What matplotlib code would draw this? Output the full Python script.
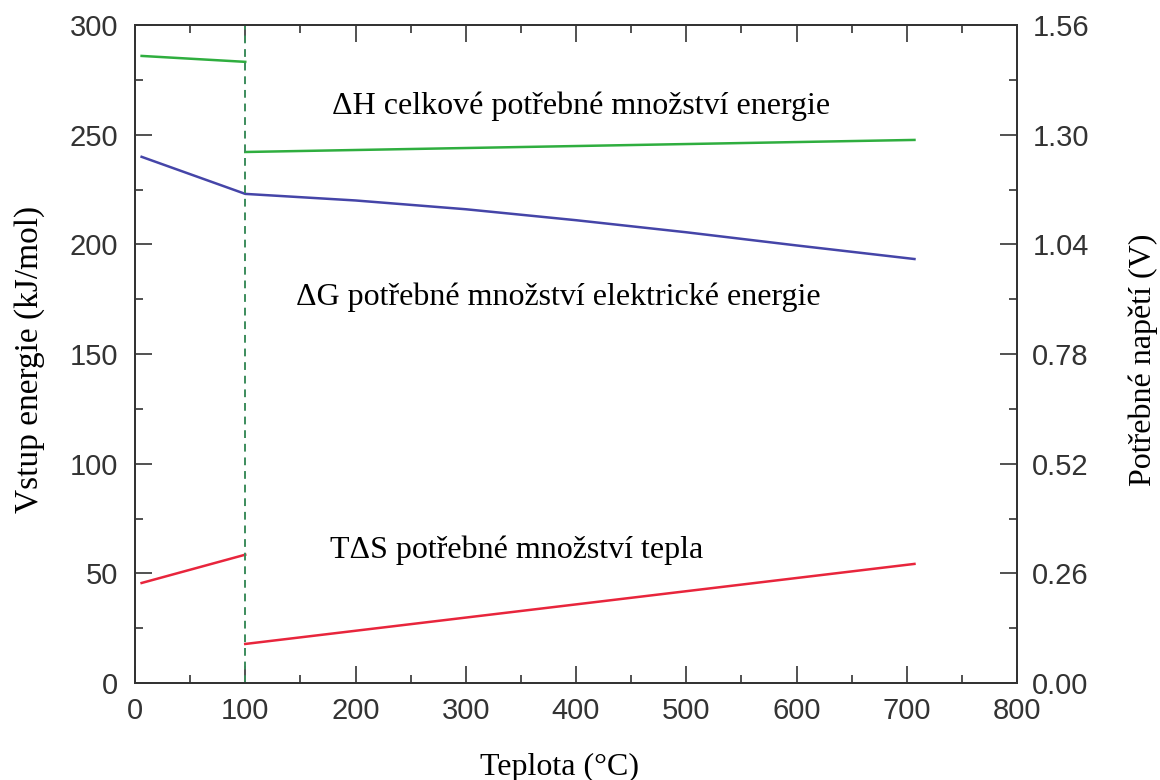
import matplotlib.pyplot as plt
from matplotlib.ticker import MultipleLocator

# data (kJ/mol vs. temperature in °C)
dh_liquid_t = [6, 100]
dh_liquid = [285.9, 283.2]
dh_steam_t = [100, 707]
dh_steam = [242.1, 247.6]

dg_t = [6, 100, 200, 300, 400, 500, 600, 707]
dg = [239.9, 223.0, 220.0, 216.0, 211.0, 205.5, 199.5, 193.3]

tds_liquid_t = [6, 100]
tds_liquid = [45.6, 58.5]
tds_steam_t = [100, 707]
tds_steam = [17.8, 54.3]

phase_change_t = 100

labels = {
    "dh": "ΔH celkové potřebné množství energie",
    "dg": "ΔG potřebné množství elektrické energie",
    "tds": "TΔS potřebné množství tepla",
}

tick_font = "Liberation Sans"
text_font = "Liberation Serif"
axis_col = "#333333"

fig = plt.figure(figsize=(11.6, 7.8), dpi=100)
ax = fig.add_axes([135 / 1160, 1 - 683 / 780, (1017 - 135) / 1160, (683 - 25) / 780])

green = "#2fae3f"
blue = "#4545a8"
red = "#e8253c"

ax.plot(dh_liquid_t, dh_liquid, color=green, lw=1.8)
ax.plot(dh_steam_t, dh_steam, color=green, lw=1.8)
ax.plot(dg_t, dg, color=blue, lw=1.8)
ax.plot(tds_liquid_t, tds_liquid, color=red, lw=1.8)
ax.plot(tds_steam_t, tds_steam, color=red, lw=1.8)
ax.axvline(phase_change_t, color="#3c8c5c", lw=1.4, ls=(0, (4, 3)))

ax.set_xlim(0, 800)
ax.set_ylim(0, 300)
ax.xaxis.set_major_locator(MultipleLocator(100))
ax.xaxis.set_minor_locator(MultipleLocator(50))
ax.yaxis.set_major_locator(MultipleLocator(50))
ax.yaxis.set_minor_locator(MultipleLocator(25))

ax2 = ax.twinx()
ax2.set_ylim(0, 1.56)
ax2.yaxis.set_major_locator(MultipleLocator(0.26))
ax2.yaxis.set_minor_locator(MultipleLocator(0.13))
ax2.yaxis.set_major_formatter(plt.FuncFormatter(lambda v, p: f"{v:.2f}"))

for a in (ax, ax2):
    for s in a.spines.values():
        s.set_color(axis_col)
        s.set_linewidth(1.3)

ax.tick_params(axis="x", which="major", direction="in", length=12, width=1.2,
               color=axis_col, top=True, pad=10)
ax.tick_params(axis="x", which="minor", direction="in", length=6, width=1.2,
               color=axis_col, top=True)
ax.tick_params(axis="y", which="major", direction="in", length=12, width=1.2,
               color=axis_col, pad=12)
ax.tick_params(axis="y", which="minor", direction="in", length=6, width=1.2,
               color=axis_col)
ax2.tick_params(axis="y", which="major", direction="in", length=12, width=1.2,
                color=axis_col, pad=11)
ax2.tick_params(axis="y", which="minor", direction="in", length=6, width=1.2,
                color=axis_col)

for lab in ax.get_xticklabels() + ax.get_yticklabels() + ax2.get_yticklabels():
    lab.set_fontfamily(tick_font)
    lab.set_fontsize(21)
    lab.set_color(axis_col)

ax.set_xlabel("Teplota (°C)", fontfamily=text_font, fontsize=23, labelpad=20)
ax.set_ylabel("Vstup energie (kJ/mol)", fontfamily=text_font, fontsize=24, labelpad=17.5)
ax2.set_ylabel("Potřebné napětí (V)", fontfamily=text_font, fontsize=23, labelpad=28.5)
ax.xaxis.label.set_x(0.481)
ax.yaxis.label.set_y(0.491)
ax2.yaxis.label.set_y(0.491)

ax.text(405, 263, labels["dh"], fontfamily=text_font, fontsize=23,
        ha="center", va="center")
ax.text(384, 176, labels["dg"], fontfamily=text_font, fontsize=23,
        ha="center", va="center")
ax.text(346, 60.5, labels["tds"], fontfamily=text_font, fontsize=23,
        ha="center", va="center")

fig.savefig("out.png", dpi=100)
